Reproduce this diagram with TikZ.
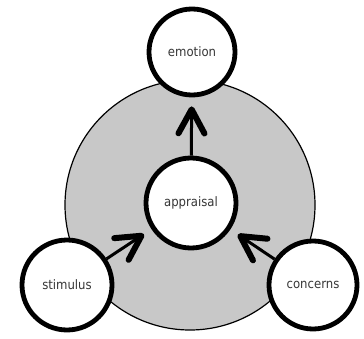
\documentclass[tikz,border=0pt]{standalone}
\usepackage{fontspec}
\newfontfamily\labelfont{DejaVu Sans Condensed}
\usetikzlibrary{arrows.meta}
\definecolor{ringgray}{RGB}{200,200,200}
\definecolor{labelgray}{RGB}{55,55,55}
\begin{document}
\begin{tikzpicture}[x=1pt,y=1pt,
  stage/.style={circle,draw=black,fill=white,line width=4.8pt,
    font=\labelfont\fontsize{13}{15}\selectfont,text=labelgray,inner sep=0pt},
  flow/.style={line width=3pt,
    -{Straight Barb[length=24pt,width=26pt,line width=6pt,round]},
    shorten >=9pt}]
  \useasboundingbox (0,0) rectangle (364,338);
  % shaded process area
  \node[circle,draw=black,fill=ringgray,line width=1.2pt,minimum size=250pt,inner sep=0pt]
    (area) at (190,133) {};
  % stages
  \node[stage,minimum size=90pt] (appraisal) at (191,135) {appraisal};
  \node[stage,minimum size=86pt] (emotion) at (192,286) {emotion};
  \node[stage,minimum size=90pt] (stimulus) at (67,53) {stimulus};
  \node[stage,minimum size=88pt] (concerns) at (313,53) {concerns};
  % influences
  \draw[flow] (appraisal) -- (emotion);
  \draw[flow] (stimulus) -- (appraisal);
  \draw[flow] (concerns) -- (appraisal);
\end{tikzpicture}
\end{document}
